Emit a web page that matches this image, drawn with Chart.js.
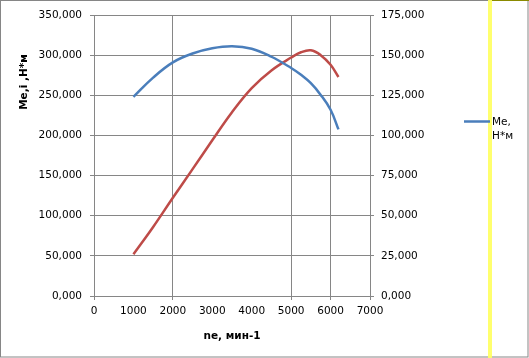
<!DOCTYPE html>
<html>
<head>
<meta charset="utf-8">
<script src="https://cdn.jsdelivr.net/npm/chart.js@4"></script>
<style>
html,body{margin:0;padding:0;background:#fff;}
#wrap{position:relative;width:529px;height:358px;}
</style>
</head>
<body>
<div id="wrap"><canvas id="c" width="529" height="358"></canvas></div>
<script>
// ---- data ----
const rpm = [1000, 1500, 2000, 2500, 3000, 3500, 4000, 4500, 5000, 5250, 5500, 5750, 6000, 6200];
const torque = [248.0, 272.0, 291.0, 302.0, 308.5, 311.0, 308.0, 298.0, 284.0, 275.5, 265.0, 250.5, 232.0, 207.5];
const power = [26.0, 43.0, 61.2, 79.0, 97.0, 114.5, 129.5, 140.5, 148.5, 151.8, 153.0, 150.0, 144.0, 136.4];
const xTicks = [0, 1000, 2000, 3000, 4000, 5000, 6000, 7000];
const xGridShown = [0, 2000, 5000, 6000, 7000];
const torqueLabel = "Ме, Н*м";
const powerLabel = "Ne, кВт";
const xTitle = "ne, мин-1";
const yTitle = "Me,i ,Н*м";

const GRID = '#868686';
const FONT = {family: 'DejaVu Sans', size: 10.5};
const fmt = v => Number(v).toFixed(3).replace('.', ',');

const decor = {
  id: 'decor',
  beforeDraw(chart) {
    const ctx = chart.ctx;
    ctx.save();
    ctx.fillStyle = '#fff';
    ctx.fillRect(0, 0, chart.width, chart.height);
    ctx.restore();
  },
  afterDraw(chart) {
    const ctx = chart.ctx;
    ctx.save();
    // outer border
    ctx.strokeStyle = GRID;
    ctx.lineWidth = 1;
    ctx.strokeRect(0.5, 0.5, 527.5, 356.5);
    ctx.strokeStyle = '#8a8a00';
    ctx.beginPath(); ctx.moveTo(492, 0.5); ctx.lineTo(529, 0.5); ctx.stroke();
    // yellow band
    ctx.fillStyle = 'rgba(255,255,102,0.95)';
    ctx.fillRect(488, 0, 4, 358);
    // legend
    ctx.strokeStyle = '#4a7ebb';
    ctx.lineWidth = 2.5;
    ctx.beginPath(); ctx.moveTo(464, 121.5); ctx.lineTo(490, 121.5); ctx.stroke();
    ctx.fillStyle = '#000';
    ctx.font = '10.5px "DejaVu Sans"';
    ctx.textBaseline = 'middle';
    ctx.textAlign = 'left';
    const parts = torqueLabel.split(' ');
    ctx.fillText(parts[0], 492, 122);
    ctx.fillText(parts[1], 492, 136);
    // axis titles
    ctx.font = 'bold 10.5px "DejaVu Sans"';
    ctx.textAlign = 'center';
    const xs = chart.scales.x;
    ctx.fillText(xTitle, (xs.left + xs.right) / 2, 336);
    ctx.translate(24.5, 82);
    ctx.rotate(-Math.PI / 2);
    ctx.fillText(yTitle, 0, 0);
    ctx.restore();
  }
};

new Chart(document.getElementById('c'), {
  type: 'scatter',
  data: {
    datasets: [
      {
        label: torqueLabel,
        data: rpm.map((r, i) => ({x: r, y: torque[i]})),
        yAxisID: 'y',
        showLine: true,
        borderColor: '#4a7ebb',
        borderWidth: 2.5,
        pointRadius: 0,
        tension: 0.4
      },
      {
        label: powerLabel,
        data: rpm.map((r, i) => ({x: r, y: power[i]})),
        yAxisID: 'y2',
        showLine: true,
        borderColor: '#be4b48',
        borderWidth: 2.5,
        pointRadius: 0,
        tension: 0.4
      }
    ]
  },
  options: {
    responsive: false,
    animation: false,
    devicePixelRatio: 1,
    layout: {padding: {top: 15, left: 0, right: 0, bottom: 0}},
    plugins: {legend: {display: false}, tooltip: {enabled: false}},
    scales: {
      x: {
        type: 'linear', min: 0, max: 7000,
        afterFit: s => { s.height = 62; },
        afterBuildTicks: s => { s.ticks = xTicks.map(v => ({value: v})); },
        grid: {
          color: c => xGridShown.includes(c.tick && c.tick.value) ? GRID : 'rgba(0,0,0,0)',
          tickLength: 4
        },
        border: {color: GRID},
        ticks: {color: '#000', font: FONT, padding: 5, maxRotation: 0, callback: v => String(v)}
      },
      y: {
        position: 'left', min: 0, max: 350,
        afterFit: s => { s.width = 94; },
        grid: {color: GRID, tickLength: 4},
        border: {color: GRID},
        ticks: {stepSize: 50, color: '#000', font: FONT, padding: 8, callback: v => fmt(v)}
      },
      y2: {
        position: 'right', min: 0, max: 175,
        afterFit: s => { s.width = 159; },
        grid: {color: GRID, tickLength: 4, drawOnChartArea: false},
        border: {color: GRID},
        ticks: {stepSize: 25, color: '#000', font: FONT, padding: 7, callback: v => fmt(v)}
      }
    }
  },
  plugins: [decor]
});
</script>
</body>
</html>
